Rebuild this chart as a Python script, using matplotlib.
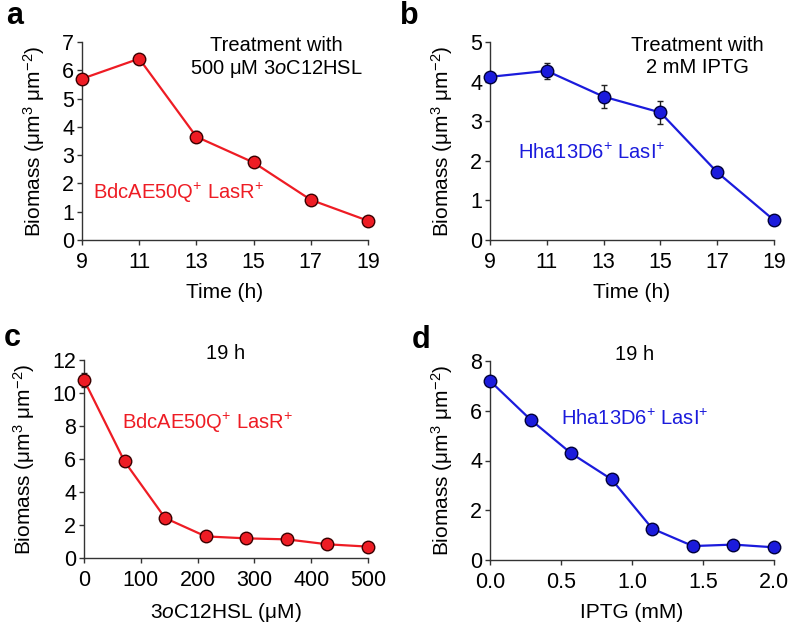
import matplotlib
matplotlib.use("Agg")
import matplotlib.pyplot as plt
import numpy as np

plt.rcParams['font.family'] = ['Liberation Sans', 'DejaVu Sans']
plt.rcParams['mathtext.fontset'] = 'custom'
plt.rcParams['mathtext.rm'] = 'Liberation Sans'
plt.rcParams['mathtext.it'] = 'Liberation Sans:italic'
plt.rcParams['mathtext.default'] = 'regular'

# ---- data ----
time_h = [9, 11, 13, 15, 17, 19]
a_biomass = [5.70, 6.41, 3.65, 2.74, 1.42, 0.68]
a_err = [0.08, 0.08, 0.20, 0.08, 0.08, 0.08]
b_biomass = [4.12, 4.27, 3.62, 3.22, 1.71, 0.50]
b_err = [0.10, 0.21, 0.29, 0.29, 0.12, 0.12]

hsl_conc = [0, 71.4, 142.9, 214.3, 285.7, 357.1, 428.6, 500]
c_biomass = [10.79, 5.85, 2.42, 1.31, 1.19, 1.13, 0.83, 0.69]
c_err = [0.40, 0.30, 0.15, 0.10, 0.08, 0.08, 0.08, 0.08]

iptg_conc = [0, 0.286, 0.571, 0.857, 1.143, 1.429, 1.714, 2.0]
d_biomass = [7.20, 5.64, 4.29, 3.24, 1.26, 0.56, 0.62, 0.51]
d_err = [0.10, 0.08, 0.10, 0.22, 0.10, 0.08, 0.08, 0.08]

a_xticks = [9, 11, 13, 15, 17, 19]
a_yticks = [0, 1, 2, 3, 4, 5, 6, 7]
b_yticks = [0, 1, 2, 3, 4, 5]
c_xticks = [0, 100, 200, 300, 400, 500]
c_yticks = [0, 2, 4, 6, 8, 10, 12]
d_xticks = [0.0, 0.5, 1.0, 1.5, 2.0]
d_xticklabels = ['0.0', '0.5', '1.0', '1.5', '2.0']
d_yticks = [0, 2, 4, 6, 8]

RED = '#ee1c24'
BLUE = '#1b1bdc'
W, H = 788, 625
TICK_FS = 15.5
LAB_FS = 15
TXT_FS = 14.5
ylabel = 'Biomass (μm$^{3}$ μm$^{-2}$)'

fig = plt.figure(figsize=(W / 100, H / 100), dpi=100)


def make_ax(left, right, top, bottom):
    ax = fig.add_axes([left / W, 1 - bottom / H, (right - left) / W, (bottom - top) / H])
    for s in ['top', 'right']:
        ax.spines[s].set_visible(False)
    for s in ['left', 'bottom']:
        ax.spines[s].set_color('#333333')
        ax.spines[s].set_linewidth(1.0)
    ax.tick_params(direction='out', length=3.5, width=1.0, color='#333333',
                   labelsize=TICK_FS)
    ax.tick_params(axis='x', pad=5)
    ax.tick_params(axis='y', pad=2)
    return ax


def plot_series(ax, x, y, e, color):
    ax.errorbar(x, y, yerr=e, color=color, lw=1.6, marker='o', ms=9,
                mfc=color, mec='#3a0000' if color == RED else '#00003a', mew=1.0,
                ecolor='#222222', elinewidth=1.0, capsize=2.5, capthick=1.0,
                clip_on=False, zorder=3)


# panel a
ax = make_ax(82, 368, 42, 240)
plot_series(ax, time_h, a_biomass, a_err, RED)
ax.set_xlim(9, 19)
ax.set_ylim(0, 7)
ax.set_xticks(a_xticks)
ax.set_yticks(a_yticks)
ax.set_xlabel('Time (h)', fontsize=LAB_FS, labelpad=7)
ax.set_ylabel(ylabel, fontsize=LAB_FS, labelpad=11)
ax.text(0.68, 1.03, 'Treatment with\n500 μM 3$\\mathit{o}$C12HSL', transform=ax.transAxes,
        ha='center', va='top', fontsize=TXT_FS, linespacing=1.2)
ax.text(0.04, 0.24, 'BdcAE50Q$^{+}$ LasR$^{+}$', transform=ax.transAxes,
        ha='left', va='center', fontsize=TXT_FS, color=RED)

# panel b
ax = make_ax(490, 774, 42, 240)
plot_series(ax, time_h, b_biomass, b_err, BLUE)
ax.set_xlim(9, 19)
ax.set_ylim(0, 5)
ax.set_xticks(a_xticks)
ax.set_yticks(b_yticks)
ax.set_xlabel('Time (h)', fontsize=LAB_FS, labelpad=7)
ax.set_ylabel(ylabel, fontsize=LAB_FS, labelpad=11)
ax.text(0.73, 1.03, 'Treatment with\n2 mM IPTG', transform=ax.transAxes,
        ha='center', va='top', fontsize=TXT_FS, linespacing=1.2)
ax.text(0.10, 0.44, 'Hha13D6$^{+}$ LasI$^{+}$', transform=ax.transAxes,
        ha='left', va='center', fontsize=TXT_FS, color=BLUE)

# panel c
ax = make_ax(84, 368, 360, 558)
plot_series(ax, hsl_conc, c_biomass, c_err, RED)
ax.set_xlim(0, 500)
ax.set_ylim(0, 12)
ax.set_xticks(c_xticks)
ax.set_yticks(c_yticks)
ax.set_xlabel('3$\\mathit{o}$C12HSL (μM)', fontsize=LAB_FS, labelpad=7)
ax.set_ylabel(ylabel, fontsize=LAB_FS, labelpad=11)
ax.text(0.50, 1.035, '19 h', transform=ax.transAxes,
        ha='center', va='center', fontsize=TXT_FS)
ax.text(0.135, 0.68, 'BdcAE50Q$^{+}$ LasR$^{+}$', transform=ax.transAxes,
        ha='left', va='center', fontsize=TXT_FS, color=RED)

# panel d
ax = make_ax(490, 774, 361, 560)
plot_series(ax, iptg_conc, d_biomass, d_err, BLUE)
ax.set_xlim(0, 2.0)
ax.set_ylim(0, 8)
ax.set_xticks(d_xticks)
ax.set_xticklabels(d_xticklabels)
ax.set_yticks(d_yticks)
ax.set_xlabel('IPTG (mM)', fontsize=LAB_FS, labelpad=7)
ax.set_ylabel(ylabel, fontsize=LAB_FS, labelpad=11)
ax.text(0.51, 1.035, '19 h', transform=ax.transAxes,
        ha='center', va='center', fontsize=TXT_FS)
ax.text(0.25, 0.71, 'Hha13D6$^{+}$ LasI$^{+}$', transform=ax.transAxes,
        ha='left', va='center', fontsize=TXT_FS, color=BLUE)

# panel letters
for lbl, px, py in [('a', 6, 16), ('b', 400, 16), ('c', 4, 338), ('d', 412, 340)]:
    fig.text(px / W, 1 - py / H, lbl, fontsize=22, fontweight='bold',
             ha='left', va='center')

fig.savefig('out.png', dpi=100)
